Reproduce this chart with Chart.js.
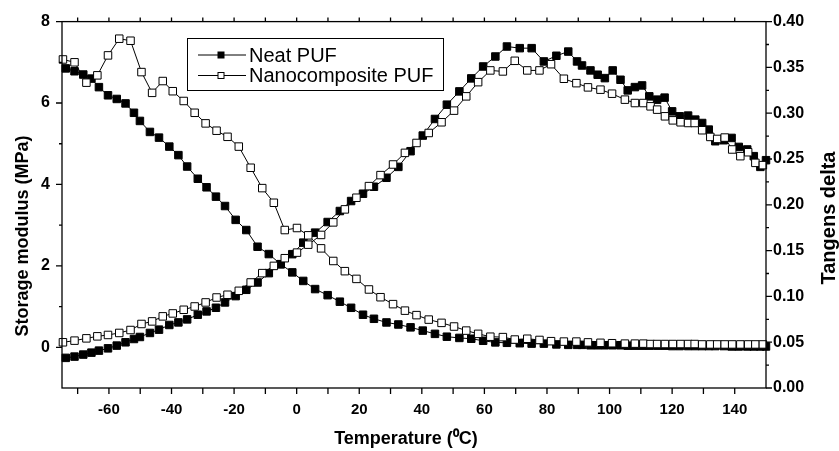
<!DOCTYPE html>
<html>
<head>
<meta charset="utf-8">
<script src="https://cdn.jsdelivr.net/npm/chart.js@4.4.1/dist/chart.umd.min.js"></script>
<style>
  html, body { margin: 0; padding: 0; background: #fff; }
  #wrap { width: 839px; height: 451px; }
</style>
</head>
<body>
<div id="wrap"><canvas id="dmaChart" width="839" height="451"></canvas></div>
<script>
// Neat PUF: temperature (C), storage modulus (MPa), tan delta
const neatTemp = [
  -73.8, -71.0, -68.2, -65.6, -63.2, -60.3, -57.5, -54.7, -52.0, -50.1,
  -46.9, -44.0, -40.7, -37.8, -35.0, -31.6, -28.8, -25.8, -22.9, -19.5,
  -16.1, -12.5, -8.9, -5.1, -1.4, 2.1, 5.9, 9.9, 13.8, 17.4,
  21.2, 24.7, 28.7, 32.5, 36.4, 40.3, 44.2, 48.0, 52.0, 55.8,
  59.6, 63.5, 67.2, 71.3, 75.1, 79.0, 83.0, 86.8, 89.6, 91.2,
  93.9, 96.2, 98.5, 101.0, 103.5, 105.8, 108.1, 110.4, 112.7, 115.2,
  117.6, 120.0, 122.4, 125.1, 127.4, 129.6, 131.7, 133.8, 136.5, 139.0,
  141.3, 144.0, 146.1, 148.2, 150.0
];
const neatModulus = [
  6.85, 6.78, 6.70, 6.60, 6.39, 6.19, 6.10, 5.99, 5.76, 5.56,
  5.29, 5.15, 4.93, 4.72, 4.44, 4.14, 3.93, 3.70, 3.47, 3.13,
  2.88, 2.47, 2.29, 2.04, 1.84, 1.63, 1.43, 1.28, 1.12, 0.97,
  0.80, 0.70, 0.61, 0.56, 0.49, 0.41, 0.33, 0.26, 0.23, 0.21,
  0.16, 0.12, 0.11, 0.10, 0.09, 0.09, 0.07, 0.06, 0.06, 0.06,
  0.05, 0.05, 0.05, 0.05, 0.05, 0.04, 0.04, 0.04, 0.04, 0.04,
  0.04, 0.03, 0.03, 0.03, 0.03, 0.03, 0.03, 0.03, 0.03, 0.02,
  0.02, 0.02, 0.02, 0.02, 0.02
];
const neatTan = [
  0.0329, 0.0343, 0.0365, 0.0386, 0.0408, 0.0433, 0.0463, 0.0499, 0.0535, 0.0557,
  0.0601, 0.0637, 0.0688, 0.0716, 0.0749, 0.0800, 0.0836, 0.0876, 0.0934, 0.1003,
  0.1072, 0.1152, 0.1254, 0.1352, 0.1461, 0.1587, 0.1696, 0.1812, 0.1932, 0.2041,
  0.2121, 0.2197, 0.2295, 0.2414, 0.2585, 0.2756, 0.2937, 0.3093, 0.3238, 0.3380,
  0.3510, 0.3619, 0.3728, 0.3710, 0.3710, 0.3565, 0.3627, 0.3673, 0.3565, 0.3521,
  0.3467, 0.3420, 0.3383, 0.3467, 0.3365, 0.3249, 0.3285, 0.3303, 0.3184, 0.3148,
  0.3170, 0.3020, 0.2966, 0.2974, 0.2930, 0.2893, 0.2821, 0.2694, 0.2705, 0.2730,
  0.2632, 0.2604, 0.2531, 0.2414, 0.2487
];

// Nanocomposite PUF
const nanoTemp = [
  -74.7, -71.0, -67.2, -63.7, -60.3, -56.7, -53.1, -49.6, -46.2, -42.8,
  -39.6, -36.1, -32.6, -29.1, -25.6, -22.1, -18.5, -14.7, -11.0, -7.3,
  -3.8, 0.1, 3.7, 7.8, 11.7, 15.4, 19.1, 23.1, 26.8, 30.8,
  34.6, 38.3, 42.2, 46.3, 50.3, 54.2, 58.0, 61.9, 65.9, 69.7,
  73.7, 77.6, 81.3, 85.4, 89.4, 93.1, 97.1, 100.8, 104.9, 108.1,
  110.8, 113.1, 115.2, 117.7, 120.2, 122.7, 125.1, 127.2, 129.6, 132.2,
  134.4, 136.8, 139.2, 141.8, 144.3, 146.6, 149.0
];
const nanoModulus = [
  7.07, 7.00, 6.50, 6.68, 7.17, 7.58, 7.53, 6.76, 6.25, 6.54,
  6.29, 6.05, 5.76, 5.50, 5.32, 5.17, 4.93, 4.41, 3.91, 3.55,
  2.88, 2.93, 2.75, 2.43, 2.12, 1.87, 1.68, 1.42, 1.23, 1.06,
  0.90, 0.79, 0.68, 0.60, 0.51, 0.41, 0.33, 0.26, 0.25, 0.19,
  0.21, 0.18, 0.15, 0.14, 0.14, 0.12, 0.11, 0.10, 0.09, 0.09,
  0.09, 0.08, 0.08, 0.08, 0.08, 0.08, 0.08, 0.08, 0.07, 0.07,
  0.07, 0.07, 0.07, 0.07, 0.07, 0.07, 0.07
];
const nanoTan = [
  0.0499, 0.0517, 0.0542, 0.0564, 0.0579, 0.0601, 0.0633, 0.0699, 0.0727, 0.0782,
  0.0814, 0.0854, 0.0890, 0.0934, 0.0988, 0.1018, 0.1061, 0.1152, 0.1254, 0.1333,
  0.1417, 0.1478, 0.1565, 0.1671, 0.1808, 0.1950, 0.2077, 0.2204, 0.2324, 0.2440,
  0.2567, 0.2675, 0.2784, 0.2901, 0.3028, 0.3184, 0.3339, 0.3467, 0.3456, 0.3572,
  0.3467, 0.3467, 0.3535, 0.3376, 0.3328, 0.3282, 0.3257, 0.3213, 0.3148, 0.3111,
  0.3111, 0.3075, 0.3039, 0.2966, 0.2922, 0.2901, 0.2893, 0.2893, 0.2814, 0.2741,
  0.2719, 0.2734, 0.2604, 0.2531, 0.2574, 0.2458, 0.2433
];

const legendNames = ['Neat PUF', 'Nanocomposite PUF'];
const xTitle = 'Temperature (\u2070C)';
const leftTitle = 'Storage modulus (MPa)';
const rightTitle = 'Tangens delta';

// axis ticks
const xTickLabels = [-60, -40, -20, 0, 20, 40, 60, 80, 100, 120, 140];
const xTickMarks = [-70, -60, -50, -40, -30, -20, -10, 0, 10, 20, 30, 40, 50, 60, 70, 80, 90, 100, 110, 120, 130, 140];
const leftTickLabels = [0, 2, 4, 6, 8];
const leftMinorTicks = [1, 3, 5, 7];
const rightTickLabels = [0, 0.05, 0.10, 0.15, 0.20, 0.25, 0.30, 0.35, 0.40];
const rightMinorTicks = [0.025, 0.075, 0.125, 0.175, 0.225, 0.275, 0.325, 0.375];

const FONT = "'Liberation Sans', Arial, Helvetica, sans-serif";
Chart.defaults.font.family = FONT;
Chart.defaults.color = '#000';

function toPoints(xs, ys) {
    return xs.map((x, i) => ({ x: x, y: ys[i] }));
}

function series(data, axis, filled) {
    return {
        data: data,
        yAxisID: axis,
        borderColor: '#000',
        borderWidth: 1,
        tension: 0,
        pointStyle: 'rect',
        pointRadius: 5.3,
        pointBorderWidth: 1,
        pointBorderColor: '#000',
        pointBackgroundColor: filled ? '#000' : '#fff',
        clip: false
    };
}

function rotatedText(ctx, text, x, y) {
    ctx.save();
    ctx.translate(x, y);
    ctx.rotate(-Math.PI / 2);
    ctx.fillText(text, 0, 0);
    ctx.restore();
}

// frame, tick marks (major/minor), axis titles and the boxed legend
const framePlugin = {
    id: 'frameAndTicks',
    afterDraw(chart) {
        const { ctx, chartArea: a, scales } = chart;
        ctx.save();
        ctx.strokeStyle = '#000';
        ctx.lineWidth = 1.3;
        ctx.strokeRect(a.left, a.top, a.right - a.left, a.bottom - a.top);

        ctx.beginPath();
        xTickMarks.forEach(v => {
            const px = scales.x.getPixelForValue(v);
            ctx.moveTo(px, a.bottom); ctx.lineTo(px, a.bottom + 6);
            ctx.moveTo(px, a.top); ctx.lineTo(px, a.top - 4);
        });
        leftTickLabels.forEach(v => {
            const py = scales.y.getPixelForValue(v);
            ctx.moveTo(a.left, py); ctx.lineTo(a.left - 6, py);
        });
        leftMinorTicks.forEach(v => {
            const py = scales.y.getPixelForValue(v);
            ctx.moveTo(a.left, py); ctx.lineTo(a.left - 3, py);
        });
        rightTickLabels.forEach(v => {
            const py = scales.y2.getPixelForValue(v);
            ctx.moveTo(a.right, py); ctx.lineTo(a.right + 6, py);
        });
        rightMinorTicks.forEach(v => {
            const py = scales.y2.getPixelForValue(v);
            ctx.moveTo(a.right, py); ctx.lineTo(a.right + 3, py);
        });
        ctx.stroke();

        // axis titles
        ctx.fillStyle = '#000';
        ctx.textAlign = 'center';
        ctx.textBaseline = 'middle';
        ctx.font = 'bold 18px ' + FONT;
        ctx.fillText(xTitle, 406, 439);
        rotatedText(ctx, leftTitle, 23, 236);
        ctx.font = 'bold 20px ' + FONT;
        rotatedText(ctx, rightTitle, 829, 218);

        // legend
        ctx.textAlign = 'left';
        ctx.lineWidth = 1;
        ctx.fillStyle = '#fff';
        ctx.fillRect(187.5, 38.5, 256, 52);
        ctx.strokeRect(187.5, 38.5, 256, 52);
        ctx.font = '20px ' + FONT;
        legendNames.forEach((name, i) => {
            const y = 55 + i * 20.5;
            ctx.beginPath();
            ctx.moveTo(198, y); ctx.lineTo(246, y);
            ctx.strokeStyle = '#000';
            ctx.stroke();
            ctx.fillStyle = i === 0 ? '#000' : '#fff';
            ctx.fillRect(218, y - 3, 6, 6);
            ctx.strokeRect(218, y - 3, 6, 6);
            ctx.fillStyle = '#000';
            ctx.fillText(name, 249, y + 1);
        });
        ctx.restore();
    }
};

const ctx = document.getElementById('dmaChart').getContext('2d');
const chart = new Chart(ctx, {
    type: 'line',
    data: {
        datasets: [
            series(toPoints(nanoTemp, nanoModulus), 'y', false),
            series(toPoints(nanoTemp, nanoTan), 'y2', false),
            series(toPoints(neatTemp, neatModulus), 'y', true),
            series(toPoints(neatTemp, neatTan), 'y2', true)
        ]
    },
    options: {
        responsive: false,
        animation: false,
        devicePixelRatio: 1,
        events: [],
        layout: { padding: { top: 20, left: 0, right: 0, bottom: 0 } },
        plugins: {
            legend: { display: false },
            tooltip: { enabled: false }
        },
        scales: {
            x: {
                type: 'linear',
                min: -75,
                max: 150,
                afterFit: s => { s.height = 63; },
                afterBuildTicks: s => { s.ticks = xTickLabels.map(v => ({ value: v })); },
                grid: { display: false, drawTicks: false },
                border: { display: false },
                ticks: { padding: 13, maxRotation: 0, font: { size: 15, weight: 'bold' } }
            },
            y: {
                type: 'linear',
                position: 'left',
                min: -1,
                max: 8,
                afterFit: s => { s.width = 62; },
                afterBuildTicks: s => { s.ticks = leftTickLabels.map(v => ({ value: v })); },
                grid: { display: false, drawTicks: false },
                border: { display: false },
                ticks: { padding: 12, font: { size: 16, weight: 'bold' } }
            },
            y2: {
                type: 'linear',
                position: 'right',
                min: 0,
                max: 0.4,
                afterFit: s => { s.width = 73; },
                afterBuildTicks: s => { s.ticks = rightTickLabels.map(v => ({ value: v })); },
                grid: { display: false, drawTicks: false },
                border: { display: false },
                ticks: {
                    padding: 7,
                    font: { size: 16, weight: 'bold' },
                    callback: v => Number(v).toFixed(2)
                }
            }
        }
    },
    plugins: [framePlugin]
});
</script>
</body>
</html>
